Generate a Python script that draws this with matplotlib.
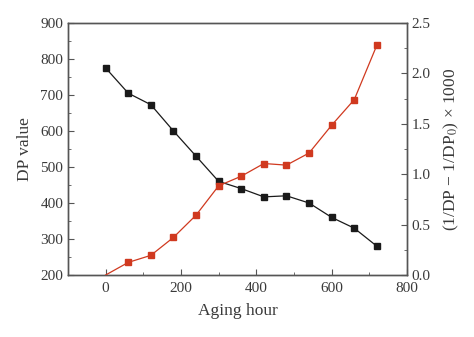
import matplotlib
matplotlib.use("Agg")
import matplotlib.pyplot as plt
from matplotlib.ticker import MultipleLocator

plt.rcParams["font.family"] = ["Liberation Serif", "DejaVu Serif"]
plt.rcParams["mathtext.fontset"] = "stix"

hours = [0, 60, 120, 180, 240, 300, 360, 420, 480, 540, 600, 660, 720]
dp_value = [775, 705, 673, 600, 530, 460, 440, 417, 420, 400, 360, 330, 280]
inv_dp = [0.0, 0.125, 0.195, 0.373, 0.594, 0.885, 0.98, 1.106, 1.09, 1.21,
          1.486, 1.74, 2.28]

black = "#1a1a1a"
red = "#d0391f"
spine = "#555555"
text_c = "#3a3a3a"

fig = plt.figure(figsize=(4.74, 3.37), dpi=100)
ax = fig.add_axes([68 / 474, 1 - 275 / 337, (407 - 68) / 474, (275 - 23) / 337])
ax2 = ax.twinx()

ax.plot(hours, dp_value, color=black, lw=0.9, marker="s", ms=4.2, zorder=3)
ax2.plot(hours, inv_dp, color=red, lw=0.9, marker="s", ms=4.2,
         markevery=range(1, len(hours)), zorder=3)

ax.set_xlim(-100, 800)
ax.set_ylim(200, 900)
ax2.set_ylim(0, 2.5)
ax.xaxis.set_major_locator(MultipleLocator(200))
ax.xaxis.set_minor_locator(MultipleLocator(100))
ax.yaxis.set_major_locator(MultipleLocator(100))
ax.yaxis.set_minor_locator(MultipleLocator(50))
ax2.yaxis.set_major_locator(MultipleLocator(0.5))
ax2.yaxis.set_minor_locator(MultipleLocator(0.25))

for a in (ax, ax2):
    for s in a.spines.values():
        s.set_color(spine)
        s.set_linewidth(1.0)
    a.tick_params(which="both", direction="in", colors=spine, labelcolor=text_c,
                  labelsize=11)
    a.tick_params(which="major", length=4)
    a.tick_params(which="minor", length=2.5)
ax.tick_params(axis="x", pad=5)

ax2.yaxis.set_major_formatter(lambda v, p: f"{v:.1f}")

ax.set_xlabel("Aging hour", fontsize=12.5, color=text_c, labelpad=6)
ax.set_ylabel("DP value", fontsize=12.5, color=text_c, labelpad=5)
ax2.set_ylabel("(1/DP \u2212 1/DP$_0$) \u00d7 1000", fontsize=12.5,
               color=text_c, labelpad=8)

fig.savefig("out.png", dpi=100)
